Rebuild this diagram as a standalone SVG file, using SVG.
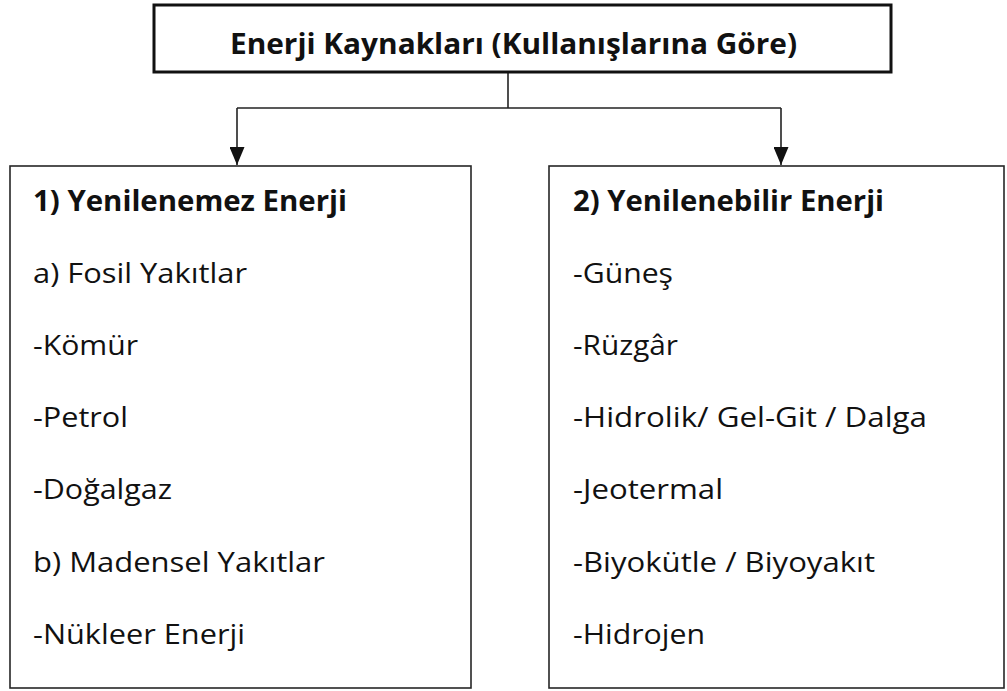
<svg xmlns="http://www.w3.org/2000/svg" width="1007" height="691" viewBox="0 0 1007 691">
<style>
.box{fill:#fff;stroke:#262626;stroke-width:1.6}
.top{fill:#fff;stroke:#111;stroke-width:3}
.t{font-family:"Open Sans","Liberation Sans",sans-serif;font-size:28px;fill:#111}
.b{font-weight:bold}
.c{fill:none;stroke:#222;stroke-width:1.6}
</style>
<defs>
<marker id="ah" viewBox="0 0 18 15" refX="18" refY="7.5" markerWidth="18" markerHeight="15" markerUnits="userSpaceOnUse" orient="auto">
<path d="M0,0 L18,7.5 L0,15 Z" fill="#111"/>
</marker>
</defs>
<g id="connectors">
<path class="c" d="M508,72 V108"/>
<path class="c" d="M237,108 H781"/>
<path class="c" d="M237,108 V165" marker-end="url(#ah)"/>
<path class="c" d="M781,108 V165" marker-end="url(#ah)"/>
</g>
<g id="root">
<rect class="top" x="154" y="5" width="737" height="67"/>
<text class="t b" x="230" y="54" textLength="567" lengthAdjust="spacingAndGlyphs">Enerji Kaynakları (Kullanışlarına Göre)</text>
</g>
<g id="nonrenewable">
<rect class="box" x="10" y="166" width="461" height="522"/>
<text class="t b" x="33" y="211" textLength="314" lengthAdjust="spacingAndGlyphs">1) Yenilenemez Enerji</text>
<text class="t" x="33" y="283" textLength="214" lengthAdjust="spacingAndGlyphs">a) Fosil Yakıtlar</text>
<text class="t" x="33" y="355" textLength="105" lengthAdjust="spacingAndGlyphs">-Kömür</text>
<text class="t" x="33" y="427" textLength="95" lengthAdjust="spacingAndGlyphs">-Petrol</text>
<text class="t" x="33" y="499" textLength="139" lengthAdjust="spacingAndGlyphs">-Doğalgaz</text>
<text class="t" x="33" y="572" textLength="292" lengthAdjust="spacingAndGlyphs">b) Madensel Yakıtlar</text>
<text class="t" x="33" y="644" textLength="212" lengthAdjust="spacingAndGlyphs">-Nükleer Enerji</text>
</g>
<g id="renewable">
<rect class="box" x="549" y="166" width="455" height="522"/>
<text class="t b" x="573" y="211" textLength="311" lengthAdjust="spacingAndGlyphs">2) Yenilenebilir Enerji</text>
<text class="t" x="573" y="283" textLength="100" lengthAdjust="spacingAndGlyphs">-Güneş</text>
<text class="t" x="573" y="355" textLength="105" lengthAdjust="spacingAndGlyphs">-Rüzgâr</text>
<text class="t" x="573" y="427" textLength="354" lengthAdjust="spacingAndGlyphs">-Hidrolik/ Gel-Git / Dalga</text>
<text class="t" x="573" y="499" textLength="150" lengthAdjust="spacingAndGlyphs">-Jeotermal</text>
<text class="t" x="573" y="572" textLength="302" lengthAdjust="spacingAndGlyphs">-Biyokütle / Biyoyakıt</text>
<text class="t" x="573" y="644" textLength="132" lengthAdjust="spacingAndGlyphs">-Hidrojen</text>
</g>
</svg>
